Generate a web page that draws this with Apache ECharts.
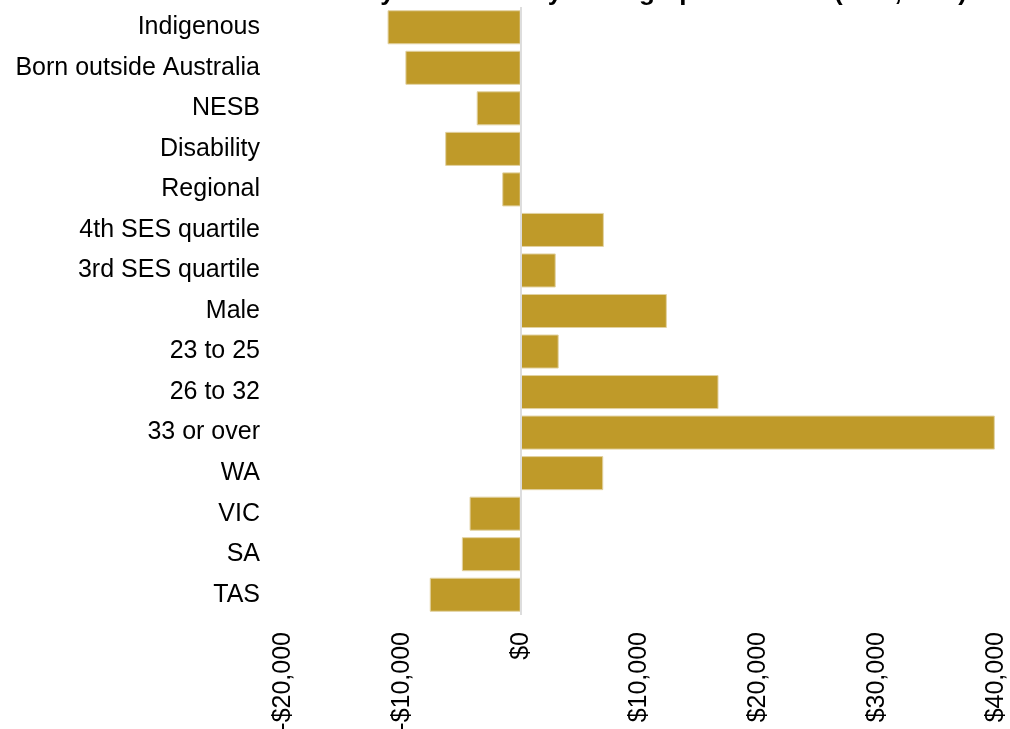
<!DOCTYPE html>
<html>
<head>
<meta charset="utf-8">
<script src="https://cdn.jsdelivr.net/npm/echarts@6/dist/echarts.min.js"></script>
<style>
  html, body { margin: 0; padding: 0; background: #fff; }
  #chart { width: 1010px; height: 729px; }
</style>
</head>
<body>
<div id="chart"></div>
<script>
// categories, top to bottom
var categories = ['Indigenous', 'Born outside Australia', 'NESB', 'Disability', 'Regional',
    '4th SES quartile', '3rd SES quartile', 'Male', '23 to 25', '26 to 32', '33 or over',
    'WA', 'VIC', 'SA', 'TAS'];
// salary variation ($)
var salaryDiff = [-11200, -9700, -3700, -6350, -1550,
    7000, 2950, 12300, 3200, 16650, 39900,
    6950, -4300, -4950, -7650];
var xTicks = { min: -20000, max: 40000, interval: 10000 };

var chart = echarts.init(document.getElementById('chart'));

var option = {
    animation: false,
    backgroundColor: '#fff',
    title: {
        // only the bottom edge of the title shows in the original
        text: 'Chart 1.2: Gross annual salary variations by demographic factors (PhD, FTE)',
        left: 14,
        top: -25,
        textStyle: {
            fontFamily: 'Liberation Sans',
            fontSize: 26,
            fontWeight: 'bold',
            color: '#000'
        }
    },
    grid: {
        left: 283,
        right: 14,
        top: 7,
        bottom: 114,
        outerBoundsMode: 'none'
    },
    xAxis: {
        type: 'value',
        min: xTicks.min,
        max: xTicks.max,
        interval: xTicks.interval,
        axisLine: { show: false },
        axisTick: { show: false },
        splitLine: { show: false },
        axisLabel: {
            rotate: 90,
            margin: 17,
            fontFamily: 'Liberation Sans',
            fontSize: 25,
            color: '#000',
            formatter: function (v) {
                var s = '$' + Math.abs(v).toLocaleString('en-US');
                return v < 0 ? '-' + s : s;
            }
        }
    },
    yAxis: {
        type: 'category',
        data: categories,
        inverse: true,
        axisLine: { show: false },
        axisTick: { show: false },
        axisLabel: {
            margin: 23,
            fontFamily: 'Liberation Sans',
            fontSize: 25,
            color: '#000'
        }
    },
    series: [{
        type: 'bar',
        data: salaryDiff,
        barCategoryGap: '16%',
        itemStyle: {
            color: '#BF9A29',
            borderColor: '#E2D2A2',
            borderWidth: 1
        },
        markLine: {
            silent: true,
            symbol: 'none',
            label: { show: false },
            lineStyle: { color: '#DDDDDD', width: 2, type: 'solid' },
            data: [{ xAxis: 0 }]
        }
    }]
};

chart.setOption(option);
</script>
</body>
</html>
